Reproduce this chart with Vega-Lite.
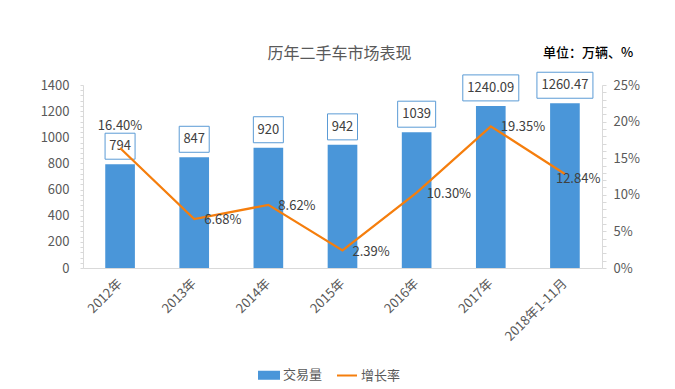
{
  "$schema": "https://vega.github.io/schema/vega-lite/v6.json",
  "width": 519,
  "height": 183,
  "autosize": {"type": "none"},
  "padding": {"left": 83, "top": 85, "right": 73, "bottom": 121},
  "background": "white",
  "title": {
    "text": "历年二手车市场表现",
    "fontSize": 16,
    "fontWeight": "normal",
    "color": "#595959",
    "anchor": "middle",
    "frame": "group",
    "dx": -3,
    "offset": -16
  },
  "data": {
    "values": [
      {"year": "2012年", "volume": 794, "growth": 0.164},
      {"year": "2013年", "volume": 847, "growth": 0.0668},
      {"year": "2014年", "volume": 920, "growth": 0.0862},
      {"year": "2015年", "volume": 942, "growth": 0.0239},
      {"year": "2016年", "volume": 1039, "growth": 0.103},
      {"year": "2017年", "volume": 1240.09, "growth": 0.1935},
      {"year": "2018年1-11月", "volume": 1260.47, "growth": 0.1284}
    ]
  },
  "encoding": {
    "x": {
      "field": "year",
      "type": "nominal",
      "sort": null,
      "scale": {"paddingInner": 0.6, "paddingOuter": 0.3},
      "axis": {
        "title": null,
        "labelAngle": -45,
        "labelAlign": "right",
        "labelBaseline": "middle",
        "labelPadding": 13,
        "ticks": false,
        "domainColor": "#d9d9d9",
        "labelFontSize": 13,
        "labelColor": "#595959"
      }
    }
  },
  "layer": [
    {
      "encoding": {
        "y": {
          "field": "volume",
          "type": "quantitative",
          "scale": {"domain": [0, 1400], "nice": false},
          "axis": {
            "title": null,
            "values": [0,40,80,120,160,200,240,280,320,360,400,440,480,520,560,600,640,680,720,760,800,840,880,920,960,1000,1040,1080,1120,1160,1200,1240,1280,1320,1360,1400],
            "labelExpr": "datum.value % 200 === 0 ? datum.label : ''",
            "labelOverlap": false,
            "format": "d",
            "tickSize": 3,
            "labelPadding": 11,
            "domainColor": "#d9d9d9",
            "tickColor": "#d9d9d9",
            "labelFontSize": 13,
            "labelColor": "#595959"
          }
        }
      },
      "layer": [
        {
          "mark": {"type": "bar"},
          "encoding": {
            "color": {
              "datum": "交易量",
              "type": "nominal",
              "scale": {"domain": ["交易量", "增长率"], "range": ["#4a96d9", "#f57e0d"]},
              "legend": {
                "title": null,
                "orient": "none",
                "direction": "horizontal",
                "legendX": 175,
                "legendY": 279,
                "padding": 0,
                "columnPadding": 10,
                "labelOffset": 3,
                "labelFontSize": 13,
                "labelColor": "#595959",
                "symbolSize": 400,
                "encode": {
                  "symbols": {
                    "update": {
                      "shape": {"signal": "datum.value === '交易量' ? 'M-1,-0.35H1V0.35H-1Z' : 'stroke'"},
                      "fill": {"signal": "datum.value === '交易量' ? '#4a96d9' : 'transparent'"},
                      "stroke": {"signal": "datum.value === '交易量' ? 'transparent' : '#f57e0d'"},
                      "strokeWidth": {"value": 2},
                      "opacity": {"value": 1}
                    }
                  }
                }
              }
            }
          }
        },
        {
          "transform": [{"filter": "datum.volume < 1000"}],
          "mark": {"type": "point", "shape": "M-15,-13H15V13H-15Z", "size": 4, "filled": true, "fill": "white", "stroke": "#5b9bd5", "strokeWidth": 1, "opacity": 1, "yOffset": -18}
        },
        {
          "transform": [{"filter": "datum.volume >= 1000 && datum.volume < 1100"}],
          "mark": {"type": "point", "shape": "M-19,-13H19V13H-19Z", "size": 4, "filled": true, "fill": "white", "stroke": "#5b9bd5", "strokeWidth": 1, "opacity": 1, "yOffset": -18}
        },
        {
          "transform": [{"filter": "datum.volume >= 1100"}],
          "mark": {"type": "point", "shape": "M-28,-13H28V13H-28Z", "size": 4, "filled": true, "fill": "white", "stroke": "#5b9bd5", "strokeWidth": 1, "opacity": 1, "yOffset": -18}
        },
        {
          "mark": {"type": "text", "dy": -18, "fontSize": 13, "color": "#404040", "baseline": "middle"},
          "encoding": {"text": {"field": "volume", "type": "quantitative"}}
        }
      ]
    },
    {
      "encoding": {
        "y": {
          "field": "growth",
          "type": "quantitative",
          "scale": {"domain": [0, 0.25], "nice": false},
          "axis": {
            "orient": "right",
            "title": "单位：万辆、%",
            "titleAngle": 0,
            "titleX": -14.5,
            "titleY": -33,
            "titleAlign": "center",
            "titleBaseline": "middle",
            "titleFontSize": 13,
            "titleFontWeight": 500,
            "titleColor": "#000000",
            "values": [0,0.01,0.02,0.03,0.04,0.05,0.06,0.07,0.08,0.09,0.1,0.11,0.12,0.13,0.14,0.15,0.16,0.17,0.18,0.19,0.2,0.21,0.22,0.23,0.24,0.25],
            "format": ".0%",
            "labelExpr": "round(datum.value * 100) % 5 === 0 ? datum.label : ''",
            "labelOverlap": false,
            "tickSize": 4,
            "labelPadding": 7,
            "domainColor": "#d9d9d9",
            "tickColor": "#d9d9d9",
            "labelFontSize": 13,
            "labelColor": "#595959"
          }
        }
      },
      "layer": [
        {
          "mark": {"type": "line", "strokeWidth": 2.25},
          "encoding": {"color": {"datum": "增长率", "type": "nominal"}}
        },
        {
          "transform": [{"filter": "datum.year === '2012年'"}],
          "mark": {"type": "text", "dy": -22, "fontSize": 13, "color": "#404040", "baseline": "middle", "align": "center"},
          "encoding": {"text": {"field": "growth", "type": "quantitative", "format": ".2%"}}
        },
        {
          "transform": [{"filter": "datum.year !== '2012年' && datum.year !== '2018年1-11月'"}],
          "mark": {"type": "text", "dx": 10, "dy": 1, "fontSize": 13, "color": "#404040", "baseline": "middle", "align": "left"},
          "encoding": {"text": {"field": "growth", "type": "quantitative", "format": ".2%"}}
        },
        {
          "transform": [{"filter": "datum.year === '2018年1-11月'"}],
          "mark": {"type": "text", "dx": -9, "dy": 5, "fontSize": 13, "color": "#404040", "baseline": "middle", "align": "left"},
          "encoding": {"text": {"field": "growth", "type": "quantitative", "format": ".2%"}}
        }
      ]
    }
  ],
  "resolve": {"scale": {"y": "independent"}},
  "config": {
    "font": "Noto Sans CJK SC",
    "view": {"stroke": null},
    "axis": {"grid": false}
  }
}
